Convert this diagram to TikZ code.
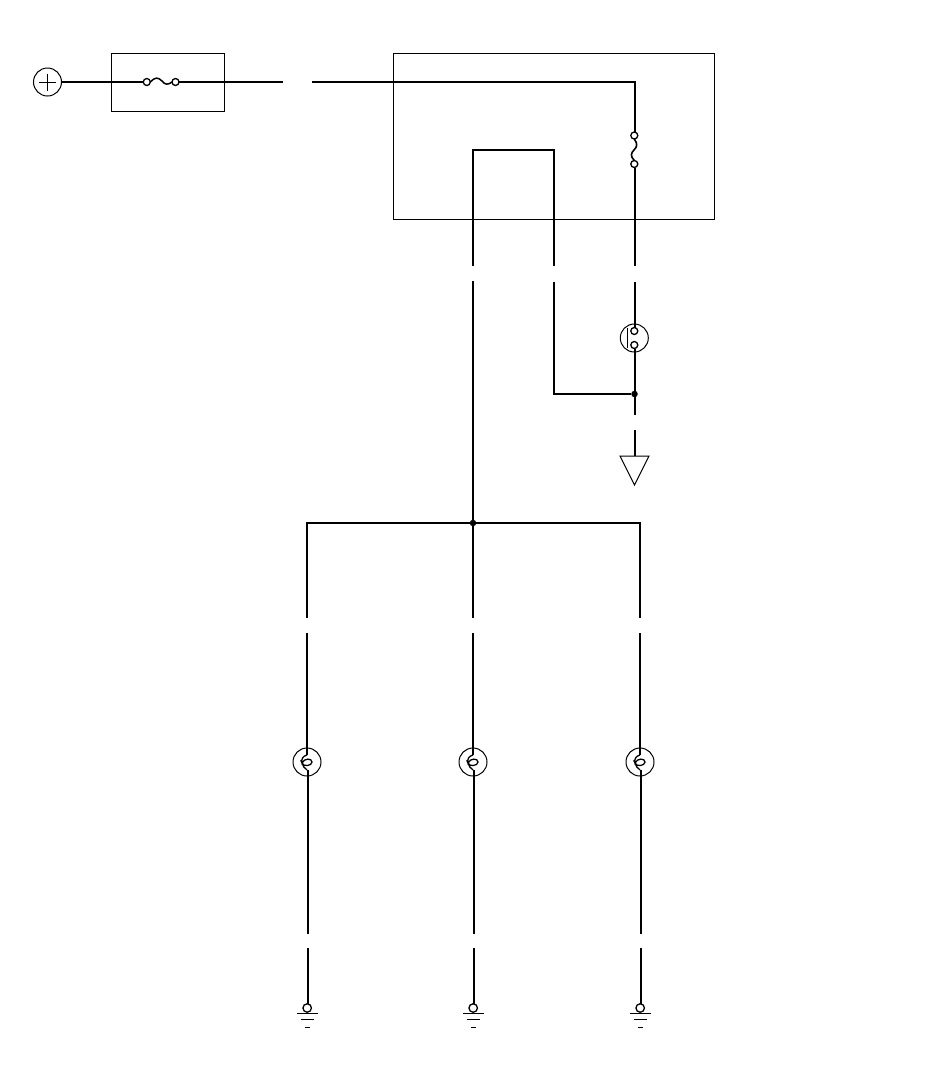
\documentclass[tikz,border=0pt]{standalone}
\begin{document}
\begin{tikzpicture}[x=1pt,y=-1pt,
  wire/.style={line width=2pt,line cap=butt,line join=miter},
  thin line/.style={line width=1pt},
  ring/.style={circle,draw,line width=1pt,minimum size=28pt,inner sep=0pt,outer sep=0pt},
  term/.style={circle,draw,line width=1.3pt,minimum size=7pt,inner sep=0pt,outer sep=0pt},
  gterm/.style={circle,draw,line width=1.3pt,minimum size=8.5pt,inner sep=0pt,outer sep=0pt},
  junction/.style={circle,fill,minimum size=6.5pt,inner sep=0pt,outer sep=0pt},
  frame/.style={draw,line width=1pt,inner sep=0pt,outer sep=0pt,anchor=north west}]
\useasboundingbox (0,0) rectangle (950,1085);
% frames
\node[frame,minimum width=113pt,minimum height=58pt] (fusebox) at (111.5,53.5) {};
\node[frame,minimum width=321pt,minimum height=166pt] (ctrlbox) at (393.5,53.5) {};
% battery
\node[ring] (batt) at (47.5,82) {};
\draw[thin line] (39,82) -- (56,82) (47.5,73.5) -- (47.5,90.5);
% main fuse
\node[term] (fa) at (146.8,82) {};
\node[term] (fb) at (175.5,82) {};
\coordinate (w1end) at (283,82);
\coordinate (w2start) at (312,82);
\coordinate (c1) at (635,82);
\draw[wire] (batt.east) -- (fa.west);
\draw[wire] (fb.east) -- (w1end);
\draw[line width=1.5pt] (fa.east) .. controls (155,77) and (158,77) .. (162,81) .. controls (165,85) and (168,85) .. (fb.west);
% inner fuse
\node[term] (ga) at (634.3,135.5) {};
\node[term] (gb) at (634.3,164) {};
\draw[wire] (w2start) -- (c1) -- (ga.north -| c1);
\draw[line width=1.6pt] (ga.south) .. controls (638,144) and (637,147) .. (634,150) .. controls (631,153) and (630,156) .. (gb.north);
% relay
\node[ring] (relay) at (634.3,338) {};
\node[term] (ra) at (634.3,331) {};
\node[term] (rb) at (634.3,345) {};
\draw[thin line] (627.3,328) -- (627.3,348);
\coordinate (g1) at (635,266);
\coordinate (g2) at (635,282);
\draw[wire] (gb.south -| g1) -- (g1);
\draw[wire] (g2) -- (ra.north -| g2);
\node[junction] (jr) at (634.5,394) {};
\coordinate (g3) at (635,415);
\coordinate (g4) at (635,430);
\draw[wire] (rb.south -| g3) -- (g3);
\coordinate (triTop) at (635,456);
\draw[wire] (g4) -- (triTop);
\coordinate (h1) at (554,282);
\coordinate (h2) at (554,394);
\draw[wire] (h1) -- (h2) -- (jr);
% chassis triangle
\draw[thin line,line join=miter] (620,456) -- (649,456) -- (634.5,485) -- cycle;
% loop
\coordinate (l1) at (473,266);
\coordinate (l2) at (473,150);
\coordinate (l3) at (554,150);
\coordinate (l4) at (554,266);
\draw[wire] (l1) -- (l2) -- (l3) -- (l4);
% trunk and bus
\coordinate (t1) at (473,281);
\node[junction] (jb) at (473,523) {};
\coordinate (bl) at (306,523);
\coordinate (br) at (641,523);
\draw[wire] (t1) -- (jb);
\draw[wire] (bl) -- (br);
% three lamp branches
\foreach \n/\x/\xb in {a/307/307.8,b/473/473.8,c/640/640.8}{
  \coordinate (u\n) at (\x,522);
  \coordinate (v\n) at (\x,618);
  \coordinate (w\n) at (\x,633);
  \node[ring] (lamp\n) at (\x,762) {};
  \draw[wire] (u\n) -- (v\n);
  \draw[wire] (w\n) -- (\x,755);
  \draw[line width=1.3pt] (\x,755) .. controls (\x-4,756) and (\x-6,759) .. (\x-5,763)
    .. controls (\x-3,758) and (\x+5,758) .. (\x+5,762)
    .. controls (\x+5,766) and (\x-4,767) .. (\x-5,763)
    .. controls (\x-5,766) and (\x-2,768) .. (\x,770);
  \coordinate (x\n) at (\xb,770);
  \coordinate (y\n) at (\xb,934);
  \coordinate (z\n) at (\xb,948);
  \node[gterm] (gt\n) at (\xb-0.6,1008) {};
  \draw[wire] (x\n) -- (y\n);
  \draw[wire] (z\n) -- (gt\n.north -| z\n);
  \draw[thin line] (\x-10,1013.5) -- (\x+11,1013.5);
  \draw[thin line] (\x-6,1019.5) -- (\x+7,1019.5);
  \draw[thin line] (\x-2,1027.5) -- (\x+3,1027.5);
}
\end{tikzpicture}
\end{document}
